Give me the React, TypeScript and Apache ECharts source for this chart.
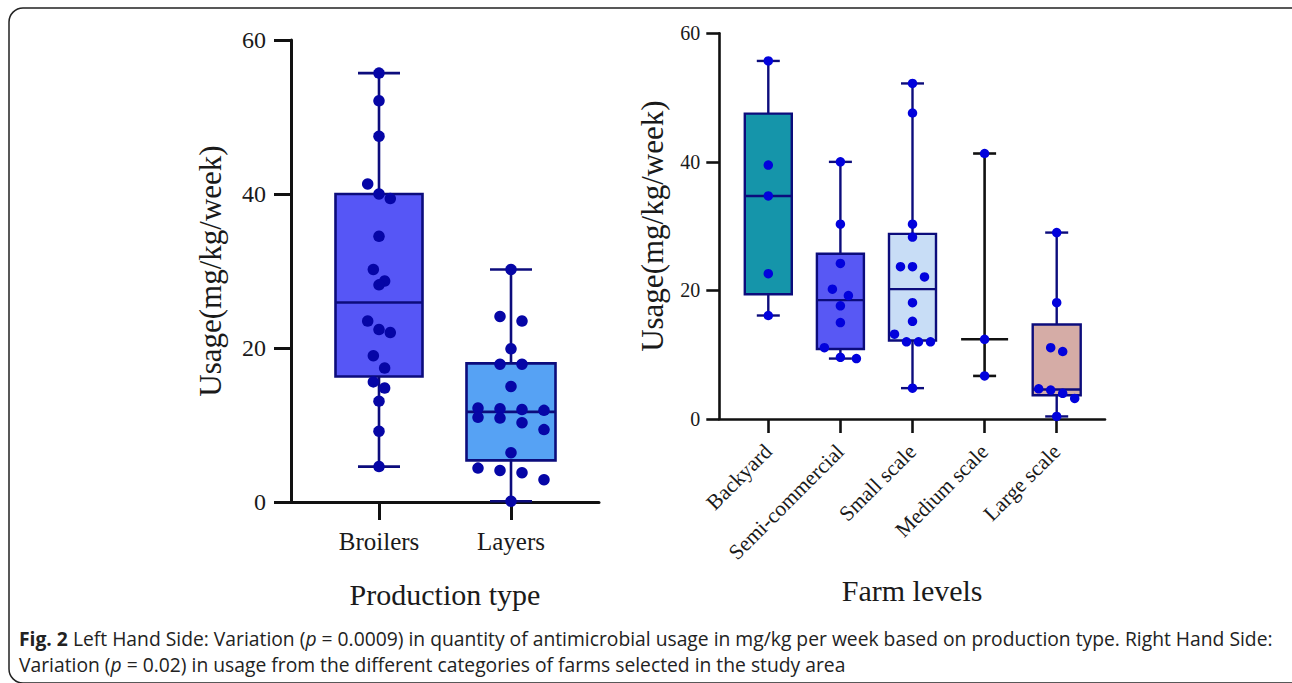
import React, { useEffect, useRef } from 'react';
import * as echarts from 'echarts';

// ---------- data ----------
const productionTypes = ['Broilers', 'Layers'];
const farmLevels = ['Backyard', 'Semi-commercial', 'Small scale', 'Medium scale', 'Large scale'];
const yTickStep = 20;
const yMax = 60;

// individual values (mg/kg/week)
const broilersUsage = [55.7, 52.1, 47.5, 41.3, 40.0, 39.4, 34.5, 30.2, 28.7, 28.2, 23.5, 22.4, 22.0, 19.0, 17.4, 15.6, 14.8, 13.1, 9.2, 4.6];
const layersUsage = [30.2, 24.1, 23.5, 19.9, 17.9, 17.9, 15.0, 12.2, 12.1, 12.0, 11.9, 11.0, 10.9, 10.3, 9.4, 6.4, 4.4, 4.1, 3.8, 2.9, 0.1];
const backyardUsage = [55.7, 39.5, 34.7, 22.6, 16.1];
const semiCommercialUsage = [40.0, 30.3, 24.2, 20.2, 19.2, 17.6, 15.0, 11.1, 9.6, 9.4];
const smallScaleUsage = [52.2, 47.6, 30.3, 28.3, 23.7, 23.7, 22.1, 18.1, 15.2, 13.2, 12.0, 12.0, 12.0, 4.8];
const mediumScaleUsage = [41.3, 12.4, 6.7];
const largeScaleUsage = [29.0, 18.1, 11.1, 10.5, 4.7, 4.5, 4.0, 3.2, 0.4];

// box summaries: [min, Q1, median, Q3, max]
const broilersBox = [4.6, 16.3, 25.9, 40.0, 55.7];
const layersBox = [0.1, 5.4, 11.7, 18.0, 30.2];
const backyardBox = [16.1, 19.4, 34.7, 47.5, 55.7];
const semiCommercialBox = [9.4, 10.9, 18.5, 25.7, 40.0];
const smallScaleBox = [4.8, 12.2, 20.2, 28.8, 52.2];
const mediumScaleBox = [6.7, 6.7, 12.4, 41.3, 41.3];
const largeScaleBox = [0.4, 3.7, 4.6, 14.7, 29.0];

const captionLine1 = '{b|Fig. 2} Left Hand Side: Variation ({i|p} = 0.0009) in quantity of antimicrobial usage in mg/kg per week based on production type. Right Hand Side:';
const captionLine2 = 'Variation ({i|p} = 0.02) in usage from the different categories of farms selected in the study area';

// ---------- styles ----------
const SERIF = '"Liberation Serif", "Times New Roman", Times, serif';
const SANS = '"Open Sans", Lato, "Noto Sans", sans-serif';
const CAP_SIZE = 19.3;
const NAVY = '#0c0c7c';
const INK = '#1a1a1a';

const leftStyles = [
  { fill: '#5656f6', stroke: NAVY, whisker: NAVY, boxW: 87, capW: 42, lw: 2.6 },
  { fill: '#56a2f4', stroke: NAVY, whisker: NAVY, boxW: 89, capW: 42, lw: 2.6 },
];
const rightStyles = [
  { fill: '#1595aa', stroke: NAVY, whisker: NAVY, boxW: 47, capW: 23, lw: 2.4 },
  { fill: '#5858f4', stroke: NAVY, whisker: NAVY, boxW: 47, capW: 23, lw: 2.4 },
  { fill: '#c8ddf6', stroke: NAVY, whisker: NAVY, boxW: 47, capW: 23, lw: 2.4 },
  { fill: null, stroke: '#111111', whisker: '#111111', boxW: 47, capW: 23, lw: 2.6 },
  { fill: '#d5aca6', stroke: NAVY, whisker: NAVY, boxW: 48, capW: 23, lw: 2.4 },
];
// dot-plot row arrangement settings per group: [row tolerance (units), max per row, step (px)]
const leftSwarm = [[1.95, 3, 11.3], [1.7, 4, 22]];
const rightSwarm = [[1.75, 4, 12], [1.75, 4, 16], [1.75, 4, 12], [1.75, 4, 12], [1.75, 4, 12]];

// ---------- helpers ----------
function swarmOffsets(values: number[], tol: number, maxPerRow: number, step: number): number[] {
  const order = values.map((_, i) => i).sort((a, b) => values[b] - values[a]);
  const offsets = new Array(values.length).fill(0);
  let row: number[] = [];
  const flush = () => {
    const n = row.length;
    row.forEach((k, j) => { offsets[k] = (j - (n - 1) / 2) * step; });
    row = [];
  };
  for (const k of order) {
    if (row.length && (values[row[0]] - values[k] > tol || row.length >= maxPerRow)) flush();
    row.push(k);
  }
  flush();
  return offsets;
}

function dotData(groups: number[][], swarm: number[][]) {
  const out: any[] = [];
  groups.forEach((vals, g) => {
    const [tol, maxRow, step] = swarm[g];
    const offs = swarmOffsets(vals, tol, maxRow, step);
    vals.forEach((v, i) => out.push({ value: [g + 1, v], symbolOffset: [offs[i], 0] }));
  });
  return out;
}

function boxRenderer(styles: any[]) {
  return (params: any, api: any) => {
    const x = api.value(0);
    const mn = api.value(1), q1 = api.value(2), md = api.value(3), q3 = api.value(4), mx = api.value(5);
    const s = styles[params.dataIndex];
    const pMin = api.coord([x, mn]);
    const pMax = api.coord([x, mx]);
    const pQ1 = api.coord([x, q1]);
    const pQ3 = api.coord([x, q3]);
    const pMd = api.coord([x, md]);
    const cx = pMin[0];
    const children: any[] = [
      { type: 'line', shape: { x1: cx, y1: pMin[1], x2: cx, y2: pMax[1] }, style: { stroke: s.whisker, lineWidth: s.lw } },
      { type: 'line', shape: { x1: cx - s.capW / 2, y1: pMin[1], x2: cx + s.capW / 2, y2: pMin[1] }, style: { stroke: s.whisker, lineWidth: s.lw } },
      { type: 'line', shape: { x1: cx - s.capW / 2, y1: pMax[1], x2: cx + s.capW / 2, y2: pMax[1] }, style: { stroke: s.whisker, lineWidth: s.lw } },
    ];
    if (s.fill) {
      children.push({
        type: 'rect',
        shape: { x: cx - s.boxW / 2, y: pQ3[1], width: s.boxW, height: pQ1[1] - pQ3[1] },
        style: { fill: s.fill, stroke: s.stroke, lineWidth: s.lw },
      });
    }
    children.push({
      type: 'line',
      shape: { x1: cx - s.boxW / 2, y1: pMd[1], x2: cx + s.boxW / 2, y2: pMd[1] },
      style: { stroke: s.stroke, lineWidth: s.lw },
    });
    return { type: 'group', children };
  };
}

function yAxisCfg(gridIndex: number, fontSize: number, margin: number, nameGap: number, tickLen: number, lw: number) {
  return {
    type: 'value', gridIndex, min: 0, max: yMax, interval: yTickStep,
    axisLine: { show: true, onZero: false, lineStyle: { color: '#111', width: lw } },
    axisTick: { show: true, length: tickLen, lineStyle: { color: '#111', width: lw } },
    axisLabel: { fontSize, fontFamily: SERIF, color: INK, margin },
    splitLine: { show: false },
    name: 'Usage(mg/kg/week)', nameLocation: 'middle', nameGap,
    nameTextStyle: { fontSize: 31, fontFamily: SERIF, color: INK },
  };
}

export default function App() {
  const ref = useRef<HTMLDivElement>(null);
  useEffect(() => {
    if (!ref.current) return;
    const chart = echarts.init(ref.current, undefined, { renderer: 'svg' });
    const leftTicks = productionTypes.map((_, i) => i + 1);
    const rightTicks = farmLevels.map((_, i) => i + 1);
    const option: any = {
      animation: false,
      backgroundColor: '#ffffff',
      grid: [
        { left: 291, top: 40, width: 308, height: 462 },
        { left: 719.3, top: 33.3, width: 385.7, height: 385.7 },
      ],
      xAxis: [
        {
          type: 'value', gridIndex: 0, min: 1 - 88 / 132, max: 2 + 88 / 132,
          axisLine: { show: true, onZero: false, lineStyle: { color: '#111', width: 3 } },
          axisTick: { show: true, customValues: leftTicks, length: 18, lineStyle: { color: '#111', width: 3 } },
          axisLabel: {
            customValues: leftTicks, fontSize: 25, fontFamily: SERIF, color: INK, margin: 27,
            formatter: (v: number) => productionTypes[Math.round(v) - 1] || '',
          },
          splitLine: { show: false },
          name: 'Production type', nameLocation: 'middle', nameGap: 77,
          nameTextStyle: { fontSize: 30, fontFamily: SERIF, color: INK },
        },
        {
          type: 'value', gridIndex: 1, min: 1 - 49 / 72.1, max: 5 + 48.3 / 72.1,
          axisLine: { show: true, onZero: false, lineStyle: { color: '#111', width: 2.6 } },
          axisTick: { show: true, customValues: rightTicks, length: 14, lineStyle: { color: '#111', width: 2.6 } },
          axisLabel: {
            customValues: rightTicks, fontSize: 21.5, fontFamily: SERIF, color: INK, margin: 29, rotate: 45,
            formatter: (v: number) => farmLevels[Math.round(v) - 1] || '',
          },
          splitLine: { show: false },
          name: 'Farm levels', nameLocation: 'middle', nameGap: 156,
          nameTextStyle: { fontSize: 30, fontFamily: SERIF, color: INK },
        },
      ],
      yAxis: [
        yAxisCfg(0, 24, 25, 65, 17, 3),
        yAxisCfg(1, 20, 19, 51, 13, 2.6),
      ],
      series: [
        {
          type: 'custom', xAxisIndex: 0, yAxisIndex: 0, clip: false, z: 2,
          renderItem: boxRenderer(leftStyles),
          data: [broilersBox, layersBox].map((b, i) => [i + 1, ...b]),
        },
        {
          type: 'custom', xAxisIndex: 1, yAxisIndex: 1, clip: false, z: 2,
          renderItem: boxRenderer(rightStyles),
          data: [backyardBox, semiCommercialBox, smallScaleBox, mediumScaleBox, largeScaleBox].map((b, i) => [i + 1, ...b]),
        },
        {
          type: 'scatter', xAxisIndex: 0, yAxisIndex: 0, z: 3, symbolSize: 11.5,
          itemStyle: { color: '#0606a6', opacity: 1 },
          data: dotData([broilersUsage, layersUsage], leftSwarm),
        },
        {
          type: 'scatter', xAxisIndex: 1, yAxisIndex: 1, z: 3, symbolSize: 9.5,
          itemStyle: { color: '#0202dc', opacity: 1 },
          data: dotData([backyardUsage, semiCommercialUsage, smallScaleUsage, mediumScaleUsage, largeScaleUsage], rightSwarm),
        },
      ],
      graphic: [
        {
          type: 'rect', z: 1, silent: true,
          shape: { x: 9, y: 8, width: 1300, height: 675, r: 14 },
          style: { fill: 'none', stroke: '#222', lineWidth: 1.5 },
        },
        {
          type: 'text', x: 19, y: 638, z: 10,
          style: {
            text: captionLine1, fontSize: CAP_SIZE, fontFamily: SANS, fill: '#222', align: 'left', verticalAlign: 'middle',
            rich: {
              b: { fontSize: CAP_SIZE, fontFamily: SANS, fontWeight: 'bold', fill: '#222' },
              i: { fontSize: CAP_SIZE, fontFamily: SANS, fontStyle: 'italic', fill: '#222' },
            },
          },
        },
        {
          type: 'text', x: 19, y: 664, z: 10,
          style: {
            text: captionLine2, fontSize: CAP_SIZE, fontFamily: SANS, fill: '#222', align: 'left', verticalAlign: 'middle',
            rich: {
              i: { fontSize: CAP_SIZE, fontFamily: SANS, fontStyle: 'italic', fill: '#222' },
            },
          },
        },
      ],
    };
    chart.setOption(option);
    return () => chart.dispose();
  }, []);
  return (
    <div
      ref={ref}
      style={{ position: 'fixed', left: 0, top: 0, width: 1292, height: 683, background: '#fff' }}
    />
  );
}
